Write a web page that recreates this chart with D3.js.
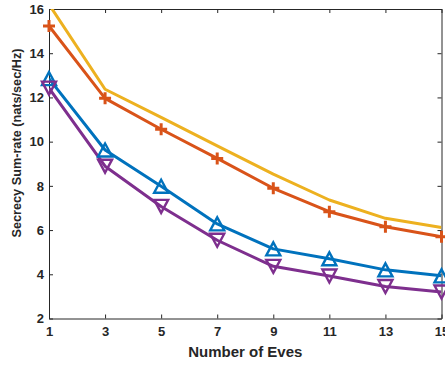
<!DOCTYPE html>
<html><head><meta charset="utf-8">
<script src="https://cdn.jsdelivr.net/npm/d3@7"></script>
<style>body{margin:0;background:#fff}svg{display:block}text{font-family:"Liberation Sans",Arial,sans-serif;font-weight:bold;fill:#262626}</style>
</head><body><svg id="c" width="445" height="367"></svg>
<script>
const xValues = [1,3,5,7,9,11,13,15];
const xTicks = [1,3,5,7,9,11,13,15];
const yTicks = [2,4,6,8,10,12,14,16];
const seriesYellow = [16.21,12.37,11.1,9.81,8.53,7.36,6.53,6.12];
const seriesOrange = [15.23,11.96,10.56,9.24,7.89,6.83,6.15,5.70];
const seriesBlue   = [12.85,9.62,7.98,6.28,5.15,4.70,4.20,3.93];
const seriesPurple = [12.42,8.89,7.07,5.54,4.36,3.92,3.45,3.20];
const series = [
  {name:"yellow", values:seriesYellow, color:"#EDB120", marker:"none"},
  {name:"orange", values:seriesOrange, color:"#D95319", marker:"plus"},
  {name:"blue", values:seriesBlue, color:"#0072BD", marker:"up"},
  {name:"purple", values:seriesPurple, color:"#7E2F8E", marker:"down"}
];
const svg = d3.select("#c");
const L=49, R=441.5, T=9, B=318.5;
const x = d3.scaleLinear().domain([1,15]).range([L,R]);
const y = d3.scaleLinear().domain([2,16]).range([B,T]);
svg.append("defs").append("clipPath").attr("id","clip").append("rect")
  .attr("x",L).attr("y",T).attr("width",R-L).attr("height",B-T);
const axisColor="#262626";
const gx = svg.append("g").attr("transform",`translate(0,${B})`)
  .call(d3.axisBottom(x).tickValues(xTicks).tickSizeInner(-4).tickSizeOuter(0).tickPadding(8));
const gxt = svg.append("g").attr("transform",`translate(0,${T})`)
  .call(d3.axisTop(x).tickValues(xTicks).tickSizeInner(-4).tickSizeOuter(0).tickFormat(""));
const gy = svg.append("g").attr("transform",`translate(${L},0)`)
  .call(d3.axisLeft(y).tickValues(yTicks).tickSizeInner(-4).tickSizeOuter(0).tickPadding(5));
const gyr = svg.append("g").attr("transform",`translate(${R},0)`)
  .call(d3.axisRight(y).tickValues(yTicks).tickSizeInner(-4).tickSizeOuter(0).tickFormat(""));
[gx,gxt,gy,gyr].forEach(g=>{
  g.selectAll("path").attr("stroke",axisColor).attr("stroke-width",1);
  g.selectAll("line").attr("stroke",axisColor).attr("stroke-width",1);
  g.selectAll("text").attr("font-size",13).attr("fill",axisColor)
    .style("font-family","'Liberation Sans',Arial,sans-serif").style("font-weight","bold");
});
gx.selectAll("text").attr("dy","0.71em");
const plot = svg.append("g").attr("clip-path","url(#clip)");
const line = d3.line().x((d,i)=>x(xValues[i])).y(d=>y(d));
series.forEach(s=>{
  plot.append("path").datum(s.values).attr("d",line).attr("fill","none")
    .attr("stroke",s.color).attr("stroke-width",3).attr("stroke-linejoin","round");
});
const mk = svg.append("g");
series.forEach(s=>{
  s.values.forEach((v,i)=>{
    const cx=x(xValues[i]), cy=y(v);
    if(s.marker==="plus"){
      const h=6;
      mk.append("path").attr("d",`M${cx-h},${cy}L${cx+h},${cy}M${cx},${cy-h}L${cx},${cy+h}`)
        .attr("stroke",s.color).attr("stroke-width",3).attr("fill","none");
    } else if(s.marker==="up"||s.marker==="down"){
      const w=7, hh=6.5, sgn = s.marker==="up"?1:-1;
      mk.append("path").attr("d",`M${cx},${cy-sgn*hh}L${cx+w},${cy+sgn*hh}L${cx-w},${cy+sgn*hh}Z`)
        .attr("stroke",s.color).attr("stroke-width",2.4).attr("fill","none").attr("stroke-linejoin","miter");
    }
  });
});
svg.append("text").attr("x",(L+R)/2).attr("y",357).attr("text-anchor","middle")
  .attr("font-size",15).text("Number of Eves");
svg.append("text").attr("transform",`translate(21,143) rotate(-90)`)
  .attr("text-anchor","middle").attr("font-size",12.7).text("Secrecy Sum-rate (nats/sec/Hz)");
</script></body></html>
